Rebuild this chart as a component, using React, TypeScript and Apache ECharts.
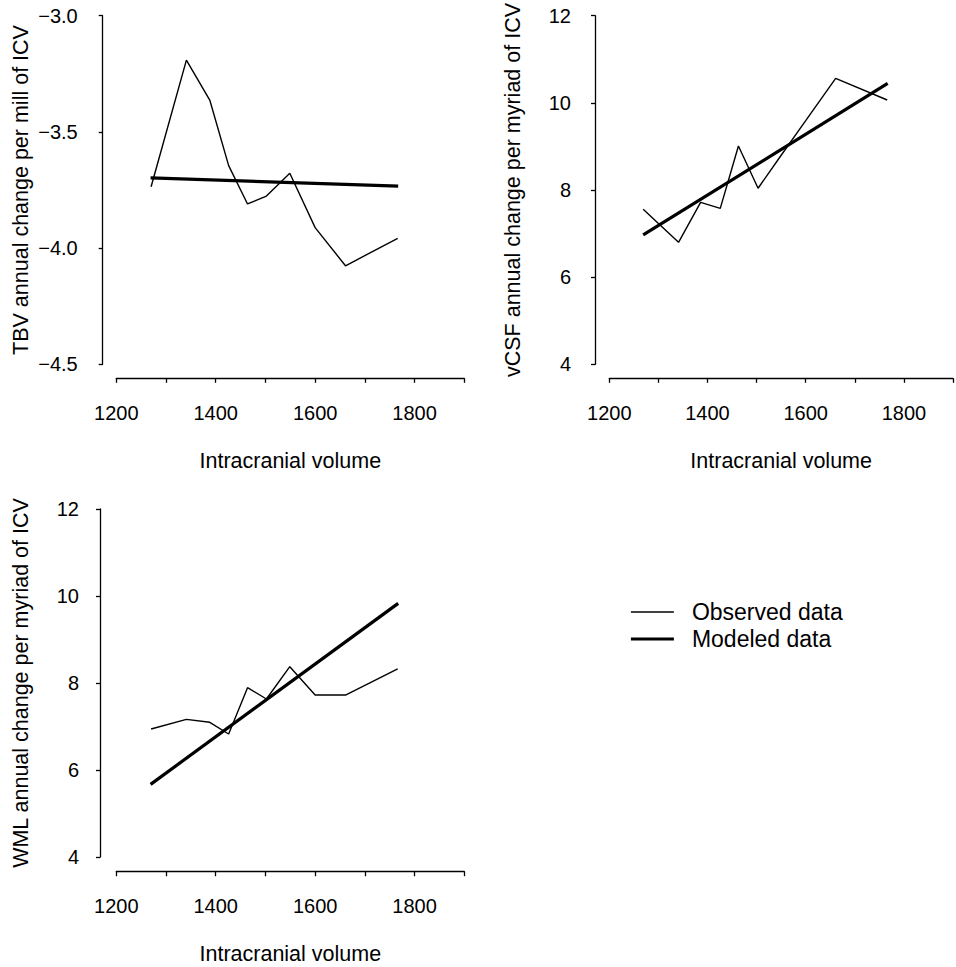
import React, { useEffect, useRef } from "react";
import * as echarts from "echarts";

const icv = [1270, 1341, 1388, 1426, 1464, 1502, 1549, 1600, 1661, 1766];
const modeledX = [1269, 1767];

const tbvObserved = [-3.736, -3.191, -3.363, -3.645, -3.81, -3.776, -3.678, -3.912, -4.076, -3.958];
const tbvModeled = [-3.698, -3.733];

const vcsfX = [1269, 1341, 1386, 1426, 1463, 1503, 1549, 1600, 1661, 1766];
const vcsfObserved = [7.556, 6.8, 7.717, 7.579, 9.01, 8.04, 8.78, 9.59, 10.563, 10.065];
const vcsfModeled = [6.968, 10.447];

const wmlObserved = [6.943, 7.165, 7.097, 6.828, 7.893, 7.632, 8.375, 7.724, 7.724, 8.322];
const wmlModeled = [5.67, 9.831];

const xTitle = "Intracranial volume";
const yTitles = [
  "TBV annual change per mill of ICV",
  "vCSF annual change per myriad of ICV",
  "WML annual change per myriad of ICV",
];
const legendNames = ["Observed data", "Modeled data"];

const FONT = "'Liberation Sans', Arial, Helvetica, sans-serif";

export default function App() {
  const ref = useRef<HTMLDivElement>(null);

  useEffect(() => {
    if (!ref.current) return;
    const chart = echarts.init(ref.current, undefined, { renderer: "svg" });

    const grids = [
      { left: 116.3, top: 15.7, width: 348, height: 348.6 },
      { left: 609.3, top: 15.7, width: 348, height: 348.6 },
      { left: 116.3, top: 509, width: 348, height: 348 },
    ];
    const yOffsets = [13.6, 14.3, 16.3];
    const yMargins = [25, 24, 21];
    const yNameGaps = [70.5, 71, 68];
    const xOffsets = [14, 14, 14.7];
    const xNameGaps = [72, 72, 71];
    const yRanges = [
      { min: -4.5, max: -3.0, interval: 0.5 },
      { min: 4, max: 12, interval: 2 },
      { min: 4, max: 12, interval: 2 },
    ];

    const axisLine = { show: true, lineStyle: { color: "#000", width: 1.3 } };

    const xAxes = grids.map((_, i) => ({
      type: "value",
      gridIndex: i,
      min: 1200,
      max: 1900,
      interval: 100,
      offset: xOffsets[i],
      axisLine,
      axisTick: { show: true, length: 4.5, lineStyle: { color: "#000", width: 1.3 } },
      splitLine: { show: false },
      axisLabel: {
        margin: 24.5,
        color: "#000",
        fontFamily: FONT,
        fontSize: 20,
        formatter: (v: number) => ((v - 1200) % 200 === 0 && v < 1900 ? String(v) : ""),
      },
      name: xTitle,
      nameLocation: "middle",
      nameGap: xNameGaps[i],
      nameTextStyle: { color: "#000", fontFamily: FONT, fontSize: 21.5 },
    }));

    const yAxes = grids.map((_, i) => ({
      type: "value",
      gridIndex: i,
      min: yRanges[i].min,
      max: yRanges[i].max,
      interval: yRanges[i].interval,
      offset: yOffsets[i],
      axisLine,
      axisTick: { show: true, length: 4, lineStyle: { color: "#000", width: 1.3 } },
      splitLine: { show: false },
      axisLabel: {
        margin: yMargins[i],
        color: "#000",
        fontFamily: FONT,
        fontSize: 20,
        padding: [3, 0, 0, 0],
        formatter: (v: number) =>
          i === 0 ? (v < 0 ? "\u2212" + Math.abs(v).toFixed(1) : v.toFixed(1)) : String(v),
      },
      name: yTitles[i],
      nameLocation: "middle",
      nameGap: yNameGaps[i],
      nameTextStyle: { color: "#000", fontFamily: FONT, fontSize: 21.5 },
    }));

    const obsStyle = { color: "#000", width: 1.4 };
    const modStyle = { color: "#000", width: 3.2 };

    const observedSets = [
      icv.map((x, j) => [x, tbvObserved[j]]),
      vcsfX.map((x, j) => [x, vcsfObserved[j]]),
      icv.map((x, j) => [x, wmlObserved[j]]),
    ];
    const modeledSets = [tbvModeled, vcsfModeled, wmlModeled].map((m) =>
      modeledX.map((x, j) => [x, m[j]])
    );

    const series: any[] = [];
    for (let i = 0; i < 3; i++) {
      series.push({
        name: legendNames[0],
        type: "line",
        xAxisIndex: i,
        yAxisIndex: i,
        data: observedSets[i],
        symbol: "none",
        lineStyle: obsStyle,
        itemStyle: { color: "#000" },
        silent: true,
      });
      series.push({
        name: legendNames[1],
        type: "line",
        xAxisIndex: i,
        yAxisIndex: i,
        data: modeledSets[i],
        symbol: "none",
        lineStyle: modStyle,
        itemStyle: { color: "#000" },
        silent: true,
      });
    }

    const hiddenSymbol = { color: "transparent", borderWidth: 0, opacity: 0 };

    chart.setOption({
      animation: false,
      backgroundColor: "#fff",
      grid: grids,
      xAxis: xAxes,
      yAxis: yAxes,
      legend: {
        orient: "vertical",
        left: 629.3,
        top: 600.5,
        padding: 0,
        itemWidth: 43,
        itemHeight: 14,
        itemGap: 4,
        selectedMode: false,
        textStyle: {
          color: "#000",
          fontFamily: FONT,
          fontSize: 23,
          padding: [0, 0, 0, 13],
        },
        data: [
          { name: legendNames[0], itemStyle: hiddenSymbol, lineStyle: { color: "#000", width: 1.4 } },
          { name: legendNames[1], itemStyle: hiddenSymbol, lineStyle: { color: "#000", width: 3.2 } },
        ],
      },
      series,
    });

    return () => chart.dispose();
  }, []);

  return (
    <div
      ref={ref}
      style={{ position: "fixed", left: 0, top: 0, width: 956, height: 967, background: "#fff" }}
    />
  );
}
